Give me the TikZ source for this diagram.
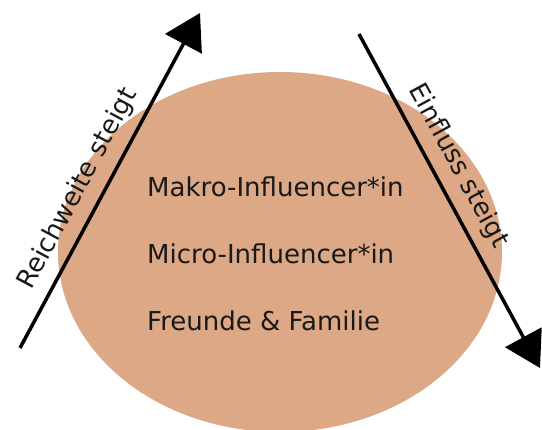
\documentclass[tikz,border=0pt]{standalone}
\usepackage{fontspec}
\setmainfont{DejaVu Sans}
\usetikzlibrary{arrows.meta,shapes.geometric}
\definecolor{blobfill}{RGB}{220,168,134}
\definecolor{txt}{RGB}{25,25,25}
\tikzset{
  blobstyle/.style={ellipse, fill=blobfill, draw=none, inner sep=0pt,
    minimum width=444pt, minimum height=360pt},
  arrowline/.style={line width=3.5pt, -{Triangle[length=35pt,width=41pt]}},
  levellabel/.style={anchor=base west, inner sep=0pt, text=txt,
    font=\fontsize{26}{30}\selectfont},
  axislabel/.style={inner sep=0pt, text=txt,
    font=\fontsize{26}{30}\selectfont}
}
\begin{document}
\begin{tikzpicture}[x=1pt,y=-1pt]
\useasboundingbox (0,0) rectangle (542,430);
\node[blobstyle] (blob) at (280,252) {};
\node[levellabel] (makro) at (147,197) {Makro-Influencer*in};
\node[levellabel] (micro) at (147,264) {Micro-Influencer*in};
\node[levellabel] (freunde) at (147,331) {Freunde \& Familie};
\coordinate (ls) at (20,348);
\coordinate (le) at (200,13);
\coordinate (rs) at (359,34);
\coordinate (re) at (540,368);
\draw[arrowline] (ls) -- (le);
\draw[arrowline] (rs) -- (re);
\node[axislabel, rotate=61.75] (reich) at (78,189) {Reichweite steigt};
\node[axislabel, rotate=-61.55] (einfl) at (458,166) {Einfluss steigt};
\end{tikzpicture}
\end{document}
